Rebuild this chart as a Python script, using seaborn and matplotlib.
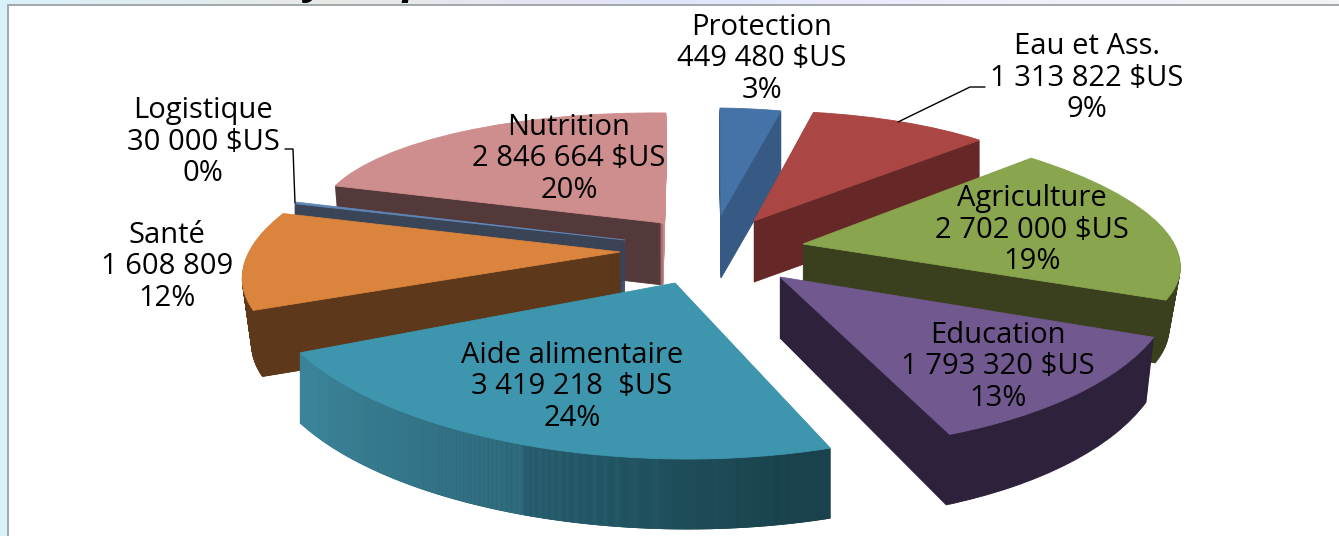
import numpy as np
import matplotlib
matplotlib.use('Agg')
import matplotlib.pyplot as plt
import seaborn as sns
from matplotlib.patches import Rectangle
from matplotlib.transforms import Affine2D

# Daten
names = ['Protection', 'Eau et Ass.', 'Agriculture', 'Education',
         'Aide alimentaire', 'Santé', 'Logistique', 'Nutrition']
values = [449480, 1313822, 2702000, 1793320, 3419218, 1608809, 30000, 2846664]
amounts = ['449 480 $US', '1 313 822 $US', '2 702 000 $US', '1 793 320 $US',
           '3 419 218  $US', '1 608 809', '30 000 $US', '2 846 664 $US']
percents = ['3%', '9%', '19%', '13%', '24%', '12%', '0%', '20%']

# Farben: Oberseite, vordere Schnittfläche, Rundung, hintere Schnittfläche
top_colors = ['#4572a7', '#aa4643', '#89a54e', '#71588f', '#3d96ae', '#db843d', '#5f86b8', '#ce8e8d']
wall_colors = ['#365a84', '#662827', '#3a401e', '#2d213b', '#1a424c', '#5d381a', '#3a4558', '#54393b']
arc_colors = ['#365a84', '#662827', '#3a401e', '#2d213b', None, '#d07e3c', '#3a4558', '#54393b']
end_colors = ['#365a84', '#662827', '#3a401e', '#2d213b', '#3a8398', '#5d381a', '#3a4558', '#ce8e8d']

# Layout je Stück in Pixeln: Spitze, Achsen der Ellipse (a, b), Tiefe, Skalierung der Unterseite
tips = [(721, 215), (754, 221), (803, 244), (780, 277), (675, 283), (620, 252), (625, 240), (663, 223)]
axis_a = [(308, -4), (325, 4), (374, -6), (394, 9), (414, -2), (372, 2), (345, 0), (345, -4)]
axis_b = [(-1, 107), (-5, 110), (-50, 127), (-31, 172), (-8, 176), (66, 139), (0, 125), (3, 110)]
depths = [63, 61, 60, 61, 70, 66, 56, 62]
scale_x = [1, 1, 0.97, 0.98, 1, 0.975, 1, 0.985]
scale_y = [1, 1, 1.05, 1.06, 1, 1, 1, 1]
draw_order = [0, 1, 2, 7, 6, 5, 3, 4]
label_pos = [(762, 59), (1087, 78), (1032, 230), (998, 367), (572, 387), (167, 267), (203, 142), (569, 159)]

sns.set_theme(style='white')
plt.rcParams['font.family'] = ['Open Sans', 'DejaVu Sans']

H = 536
fig = plt.figure(figsize=(13.39, 5.36), dpi=100, facecolor='#d9f1f9')
ax = fig.add_axes([0, 0, 1, 1])


def slice_transform(i, t):
    # Einheitskreis auf die Ellipse des Stücks abbilden, t = Anteil der Tiefe
    sx = 1 + (scale_x[i] - 1) * t
    sy = 1 + (scale_y[i] - 1) * t
    ax_x, ax_y = axis_a[i]
    bx, by = axis_b[i]
    tx, ty = tips[i]
    matrix = [[ax_x * sx, bx * sx, tx], [ax_y * sy, by * sy, H - ty - depths[i] * t], [0, 0, 1]]
    return Affine2D(np.array(matrix, dtype=float)) + ax.transData


def draw_wedges(share, start, colors, transform, zorder, width=None):
    n = len(colors)
    wedges, _ = ax.pie(np.full(n, share / n), colors=colors, startangle=90 - 360 * start,
                       counterclock=False, normalize=False,
                       wedgeprops={'linewidth': 0.6, 'zorder': zorder, 'width': width})
    for wedge, color in zip(wedges, colors):
        wedge.set_edgecolor(color)
        wedge.set_transform(transform)


shares = np.array(values) / sum(values)
starts = np.concatenate([[0], np.cumsum(shares)[:-1]])

# oberer Streifen und weißer Rahmen
strip = np.array([sns.blend_palette(['#d9f1f9', '#e8e8e6', '#e2e4fb', '#eef0fb', '#f4f4f4'], 256)])
ax.imshow(strip, extent=(0, 1339, H - 8, H), aspect='auto', zorder=0)
ax.add_patch(Rectangle((8, -5), 1340, H, facecolor='white', edgecolor='#a0a8ac', linewidth=1.4, zorder=1))

# abgeschnittener Titel am oberen Rand
ax.text(305, H + 7, 'y', fontsize=30, fontweight='bold', style='italic', color='black', va='baseline', zorder=2)
ax.text(402, H + 7, 'p', fontsize=30, fontweight='bold', style='italic', color='black', va='baseline', zorder=2)

z = 3
for i in draw_order:
    if arc_colors[i] is None:
        arc = list(sns.blend_palette(['#1a424c', '#255a69', '#326f83', '#3a8398'], 30))
    else:
        arc = [arc_colors[i]]
    for layer in range(depths[i], 0, -1):
        t = slice_transform(i, layer / depths[i])
        draw_wedges(shares[i], starts[i], [wall_colors[i], end_colors[i]], t, z)
        z += 0.001
        # Rundung nur außen, damit sie nicht bis zur Spitze reicht
        if arc_colors[i] != wall_colors[i]:
            draw_wedges(shares[i], starts[i], [wall_colors[i]] + arc + [end_colors[i]], t, z, width=0.2)
            z += 0.001
    draw_wedges(shares[i], starts[i], [top_colors[i]], slice_transform(i, 0), z)
    z += 0.001

# Führungslinien
ax.plot([285, 293, 295], [H - 149, H - 149, H - 203], color='black', lw=1, zorder=z)
ax.plot([985, 970, 898], [H - 87, H - 87, H - 122], color='black', lw=1, zorder=z)

for i, name in enumerate(names):
    x, y = label_pos[i]
    ax.text(x, H - y, f'{name}\n{amounts[i]}\n{percents[i]}', ha='center', va='center',
            fontsize=21, color='black', linespacing=1.13, zorder=z + 1)

ax.set_aspect('auto')
ax.set_xlim(0, 1339)
ax.set_ylim(0, H)
ax.axis('off')
fig.savefig('out.png', dpi=100, facecolor=fig.get_facecolor())
